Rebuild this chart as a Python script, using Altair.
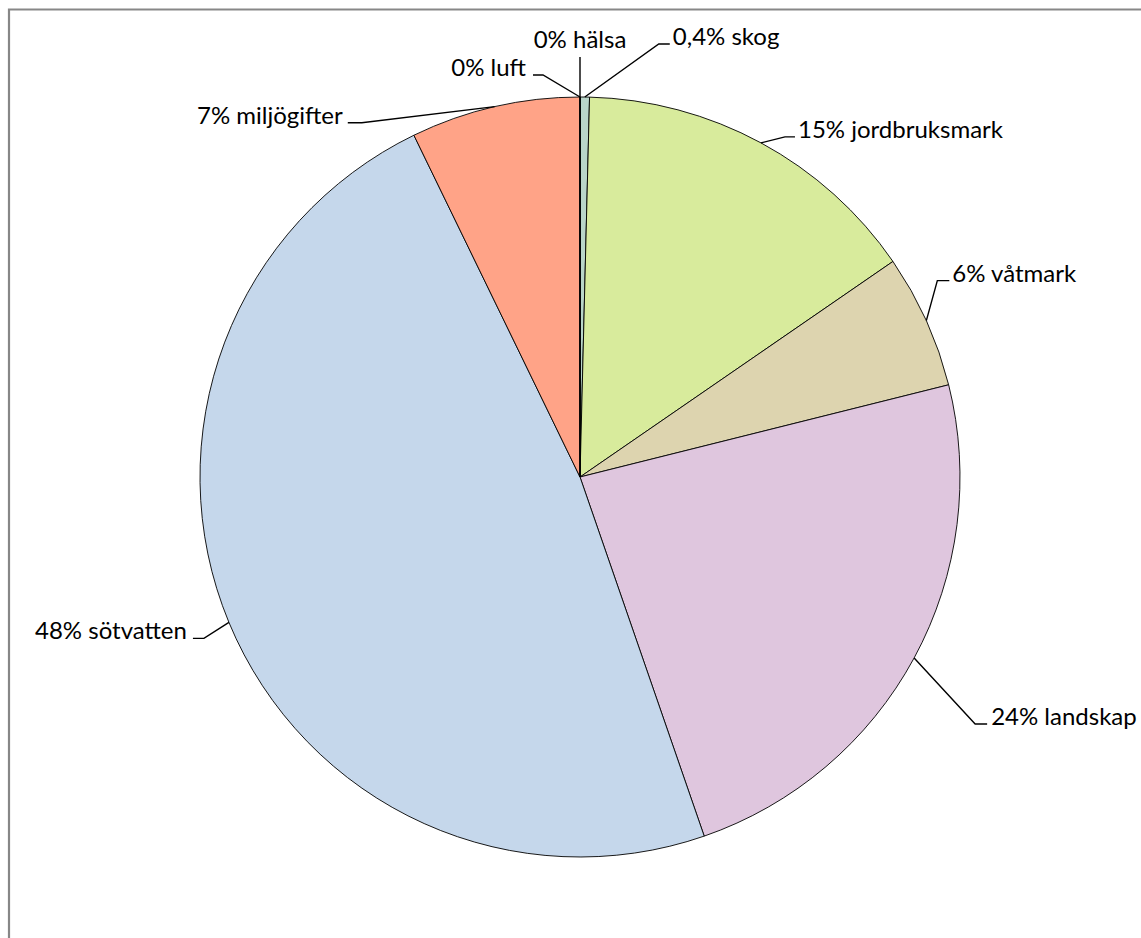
import math
import altair as alt
import pandas as pd

# ---- data ----
categories = ["skog", "jordbruksmark", "våtmark", "landskap", "sötvatten", "miljögifter", "luft", "hälsa"]
values = [0.4, 15.0, 5.7, 23.6, 48.1, 7.2, 0.0, 0.0]
labels = ["0,4% skog", "15% jordbruksmark", "6% våtmark", "24% landskap",
          "48% sötvatten", "7% miljögifter", "0% luft", "0% hälsa"]
colors = ["#b9d5c9", "#d8eb9c", "#ddd4af", "#dfc6de", "#c5d7eb", "#ffa387", "#ffffff", "#ffffff"]

# ---- layout ----
W, H = 1141, 938
CX, CY, R = 580, 477, 380
FONT = "Lato"
FONT_SIZE = 24
# label leader layout: (dx, dy) slice edge -> elbow, horizontal tail, text gap
leader = {
    "skog": (74, -53, 11, 3),
    "jordbruksmark": (24, -6, 10, 3),
    "våtmark": (11, -40, 12, 3),
    "landskap": (61, 66, 12, 4),
    "sötvatten": (-25, 16, -11, 6),
    "miljögifter": (-133, 16, -14, 5),
    "luft": (-37, -22, -10, 7),
    "hälsa": (0, -40, 0, 9),
}
frame = {"x": 9, "y": 9.5, "x2": W + 30, "y2": H + 30}

total = sum(values)
pie_rows, line_rows, text_rows = [], [], []
cum = 0.0
for i, (c, v, lab) in enumerate(zip(categories, values, labels)):
    pie_rows.append({"cat": c, "value": v, "ord": i, "cx": CX, "cy": CY})
    a = 2 * math.pi * (cum + v / 2) / total
    cum += v
    sx, sy = CX + R * math.sin(a), CY - R * math.cos(a)
    dx, dy, tail, gap = leader[c]
    ex, ey = sx + dx, sy + dy
    tx = ex + tail
    line_rows += [
        {"cat": c, "k": 0, "x": sx, "y": sy},
        {"cat": c, "k": 1, "x": ex, "y": ey},
        {"cat": c, "k": 2, "x": tx, "y": ey},
    ]
    if tail > 0:
        text_rows.append({"label": lab, "x": tx + gap, "y": ey + 1, "side": "left"})
    elif tail < 0:
        text_rows.append({"label": lab, "x": tx - gap, "y": ey + 1, "side": "right"})
    else:
        text_rows.append({"label": lab, "x": ex, "y": ey - gap, "side": "center"})

pie_df = pd.DataFrame(pie_rows)
line_df = pd.DataFrame(line_rows)
text_df = pd.DataFrame(text_rows)
frame_df = pd.DataFrame([frame])

xs = alt.Scale(domain=[0, W], nice=False, zero=False)
ys = alt.Scale(domain=[0, H], nice=False, zero=False, reverse=True)

frame_layer = alt.Chart(frame_df).mark_rect(
    fill=None, stroke="#878787", strokeWidth=2.2
).encode(
    x=alt.X("x:Q", scale=xs, axis=None), x2="x2:Q",
    y=alt.Y("y:Q", scale=ys, axis=None), y2="y2:Q",
)

pie = alt.Chart(pie_df).mark_arc(
    outerRadius=R, stroke="black", strokeWidth=0.9
).encode(
    theta=alt.Theta("value:Q", stack=True),
    order=alt.Order("ord:Q"),
    color=alt.Color("cat:N", scale=alt.Scale(domain=categories, range=colors), legend=None),
    x=alt.X("cx:Q", scale=xs, axis=None),
    y=alt.Y("cy:Q", scale=ys, axis=None),
)

lines = alt.Chart(line_df).mark_line(color="black", strokeWidth=1.4).encode(
    x=alt.X("x:Q", scale=xs, axis=None),
    y=alt.Y("y:Q", scale=ys, axis=None),
    detail="cat:N",
    order="k:Q",
)

def text_layer(side):
    return alt.Chart(text_df).transform_filter(
        alt.datum.side == side
    ).mark_text(
        align=side, baseline="alphabetic", font=FONT, fontSize=FONT_SIZE, color="black"
    ).encode(
        x=alt.X("x:Q", scale=xs, axis=None),
        y=alt.Y("y:Q", scale=ys, axis=None),
        text="label:N",
    )

chart = alt.layer(
    frame_layer, pie, lines, text_layer("left"), text_layer("right"), text_layer("center")
).properties(
    width=W, height=H, padding=0, autosize=alt.AutoSizeParams(type="none"),
    background="white",
).configure_view(strokeWidth=0)

chart.save("out.html", embed_options={"renderer": "svg", "actions": False})
